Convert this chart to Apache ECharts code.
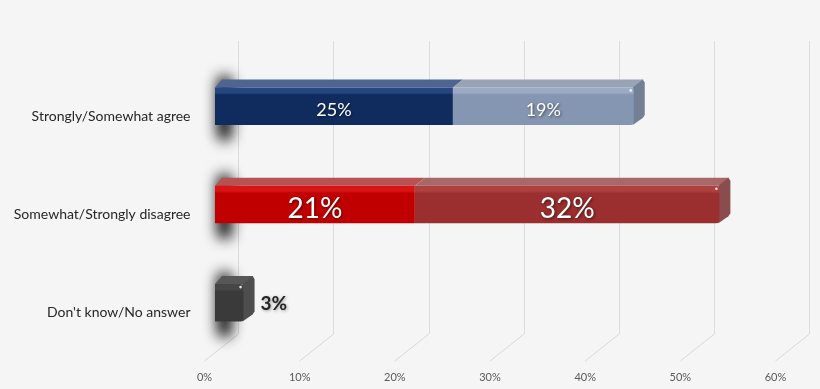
<!DOCTYPE html>
<html>
<head>
<meta charset="utf-8">
<style>
html,body{margin:0;padding:0;background:#f5f5f5;}
#chart{width:820px;height:389px;}
</style>
<script src="https://cdn.jsdelivr.net/npm/echarts@6/dist/echarts.min.js"></script>
</head>
<body>
<div id="chart"></div>
<script>
// ---- data ----
const categories = ['Strongly/Somewhat agree', 'Somewhat/Strongly disagree', "Don't know/No answer"];
const firstSegment = [25, 21, 3];
const secondSegment = [19, 32, 0];
const axisTicks = [0, 10, 20, 30, 40, 50, 60];

// ---- styles ----
const FONT = 'Lato, "Open Sans", sans-serif';
const BX = 10.5, BY = -10;      // bar front plane offset from axis front plane
const DX = 10, DY = -8;         // bar depth vector
const BAR_H = 37.5;
const WALL_DX = 34, WALL_BOTTOM = 334, FLOOR_FRONT = 361;
const OFF = 3000;
const styles = [
  [{front: '#102c5e', hi: '#26467d', top: '#4d6590', side: '#3a5078', label: '#fff', size: 18},
   {front: '#8596b2', hi: '#9cabc3', top: '#98a3b5', side: '#737f94', label: '#fff', size: 18}],
  [{front: '#c00000', hi: '#d81414', top: '#b85252', side: '#8f2020', label: '#fff', size: 28},
   {front: '#9b2e2e', hi: '#ae4040', top: '#a86868', side: '#8a4c4c', label: '#fff', size: 28}],
  [{front: '#3a3a3a', hi: '#464646', top: '#575757', side: '#4e4e4e', label: '#262626', size: 19, outside: true},
   {front: '#3a3a3a', hi: '#464646', top: '#575757', side: '#4e4e4e', label: '#262626', size: 19}]
];

const seg1Data = categories.map((c, i) => [0, firstSegment[i], i, 0]);
const seg2Data = categories.map((c, i) => [firstSegment[i], firstSegment[i] + secondSegment[i], i, 1]);

function renderBar(params, api) {
  const s = api.value(0), e = api.value(1), ci = api.value(2), si = api.value(3);
  if (e - s <= 0) return null;
  const st = styles[ci][si];
  const p0 = api.coord([s, ci]);
  const p1 = api.coord([e, ci]);
  const x0 = p0[0] + BX, x1 = p1[0] + BX;
  const yc = p0[1] + BY;
  const top = yc - BAR_H / 2, bottom = yc + BAR_H / 2;
  const isLast = si === 1 || secondSegment[ci] === 0;
  const children = [];
  if (si === 0) {
    // blurred shadow on the back wall (only the shadow of an off-screen shape is visible)
    children.push({
      type: 'rect',
      shape: {x: x0 + 2 - OFF, y: top - 12, width: 15, height: BAR_H + 28, r: 7},
      style: {fill: '#000', shadowBlur: 14, shadowColor: 'rgba(0,0,0,0.95)', shadowOffsetX: OFF, shadowOffsetY: 0}
    });
  }
  // top face
  children.push({
    type: 'polygon',
    shape: {points: [[x0, top], [x1, top], [x1 + DX, top + DY], [x0 + (si === 0 ? DX * 0.7 : DX), top + DY]]},
    style: {fill: st.top}
  });
  if (isLast) {
    children.push({
      type: 'polygon',
      shape: {points: [[x1 - 1, top], [x1 + DX - 1, top + DY], [x1 + DX + 1, top + DY + 3], [x1 + DX + 1, bottom + DY - 2], [x1 + DX - 1, bottom + DY + 1], [x1 - 1, bottom]]},
      style: {fill: st.side}
    });
  }
  // front face
  children.push({
    type: 'rect',
    shape: {x: x0, y: top, width: x1 - x0, height: BAR_H, r: isLast ? [0, 3, 3, 0] : 0},
    style: {
      fill: new echarts.graphic.LinearGradient(0, 0, 0, 1, [
        {offset: 0, color: st.hi},
        {offset: 0.14, color: st.hi},
        {offset: 0.2, color: st.front},
        {offset: 0.92, color: st.front},
        {offset: 1, color: st.front}
      ])
    }
  });
  if (isLast) {
    children.push({
      type: 'circle',
      shape: {cx: x1 - 3, cy: top + 3, r: 1.3},
      style: {fill: 'rgba(255,255,255,0.85)'}
    });
  }
  // label
  const val = e - s;
  const txt = val + '%';
  if (st.outside) {
    children.push({
      type: 'text',
      style: {
        x: x1 + DX + 7, y: yc + 1, text: txt, fill: st.label,
        font: 'bold ' + st.size + 'px ' + FONT, align: 'left', verticalAlign: 'middle',
        textShadowColor: 'rgba(0,0,0,0.35)', textShadowBlur: 3, textShadowOffsetX: 1, textShadowOffsetY: 1
      }
    });
  } else {
    children.push({
      type: 'text',
      style: {
        x: (x0 + x1) / 2, y: yc + 4, text: txt, fill: st.label,
        font: st.size + 'px ' + FONT, align: 'center', verticalAlign: 'middle',
        textShadowColor: 'rgba(0,0,0,0.55)', textShadowBlur: 3, textShadowOffsetX: 1, textShadowOffsetY: 1
      }
    });
  }
  return {type: 'group', children: children};
}

function renderFloor(params, api) {
  const v = api.value(0);
  const p = api.coord([v, 0]);
  return {
    type: 'line',
    shape: {x1: p[0] + WALL_DX, y1: WALL_BOTTOM, x2: p[0], y2: FLOOR_FRONT},
    style: {stroke: '#d9d9d9', lineWidth: 1}
  };
}

const chart = echarts.init(document.getElementById('chart'));
chart.setOption({
  backgroundColor: '#f5f5f5',
  animation: false,
  grid: [
    {left: 204.5, width: 571, top: 67, height: 295},
    {left: 238.5, width: 571, top: 41, height: 293}
  ],
  xAxis: [
    {
      gridIndex: 0, type: 'value', min: 0, max: 60, interval: 10,
      axisLine: {show: false}, axisTick: {show: false}, splitLine: {show: false},
      axisLabel: {formatter: '{value}%', color: '#595959', fontSize: 11, fontFamily: FONT, margin: 10}
    },
    {
      gridIndex: 1, type: 'value', min: 0, max: 60, interval: 10,
      axisLine: {show: false}, axisTick: {show: false}, axisLabel: {show: false},
      splitLine: {show: true, lineStyle: {color: '#dcdcdc', width: 1}}
    }
  ],
  yAxis: [
    {
      gridIndex: 0, type: 'category', data: categories, inverse: true,
      axisLine: {show: false}, axisTick: {show: false},
      axisLabel: {color: '#262626', fontSize: 14, fontFamily: FONT, margin: 14}
    },
    {gridIndex: 1, type: 'value', show: false}
  ],
  series: [
    {
      type: 'custom', xAxisIndex: 0, yAxisIndex: 0, z: 1,
      renderItem: renderFloor, data: axisTicks.map(t => [t])
    },
    {
      type: 'custom', xAxisIndex: 0, yAxisIndex: 0, z: 3,
      renderItem: renderBar, data: seg1Data
    },
    {
      type: 'custom', xAxisIndex: 0, yAxisIndex: 0, z: 4,
      renderItem: renderBar, data: seg2Data
    }
  ]
});
</script>
</body>
</html>
